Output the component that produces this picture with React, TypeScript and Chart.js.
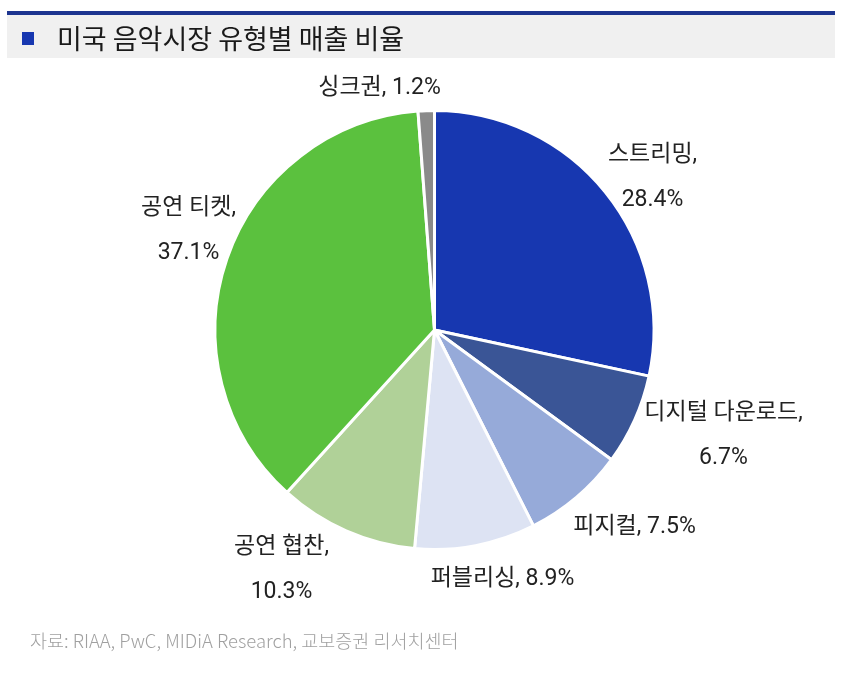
import React, { useEffect, useRef } from "react";
import { Chart, registerables } from "chart.js";

Chart.register(...registerables);

const title = "미국 음악시장 유형별 매출 비율";
const source = "자료: RIAA, PwC, MIDiA Research, 교보증권 리서치센터";
const categories = ["스트리밍", "디지털 다운로드", "피지컬", "퍼블리싱", "공연 협찬", "공연 티켓", "싱크권"];
const shares = [28.4, 6.7, 7.5, 8.9, 10.3, 37.1, 1.2];
const sliceColors = ["#1737b0", "#3a5596", "#96aad9", "#dde3f3", "#b0d198", "#5bc13e", "#8a8a8a"];
// label layout: split into two lines or not, offset of label centre from pie centre
const labelTwoLines = [true, true, false, false, true, true, false];
const labelOffsets: [number, number][] = [
  [218, -153],
  [289, 105],
  [200, 197],
  [68, 249],
  [-153, 239],
  [-246, -100],
  [-55, -242],
];

const W = 850;
const H = 684;

const decorPlugin = {
  id: "decor",
  beforeDraw(chart: any) {
    const ctx = chart.ctx;
    ctx.save();
    ctx.fillStyle = "#ffffff";
    ctx.fillRect(0, 0, W, H);
    // title band
    ctx.fillStyle = "#f0f0f0";
    ctx.fillRect(7, 15, 828, 43);
    ctx.fillStyle = "#1d3590";
    ctx.fillRect(7, 11, 828, 4);
    ctx.fillStyle = "#1737b0";
    ctx.fillRect(22, 32, 12, 13);
    ctx.fillStyle = "#1a1a1a";
    ctx.font = "400 27px 'Noto Sans CJK KR'";
    ctx.textBaseline = "middle";
    ctx.textAlign = "left";
    const tw = ctx.measureText(title).width;
    ctx.translate(57, 39);
    ctx.scale(Math.min(1, 356 / tw), 1);
    ctx.fillText(title, 0, 0);
    ctx.restore();
  },
  afterDraw(chart: any) {
    const ctx = chart.ctx;
    const meta = chart.getDatasetMeta(0);
    const arc0 = meta.data[0];
    const cx = arc0.x;
    const cy = arc0.y;
    ctx.save();
    ctx.fillStyle = "#222222";
    ctx.font = "23px Roboto, 'Noto Sans CJK KR'";
    ctx.textAlign = "center";
    ctx.textBaseline = "middle";
    categories.forEach((c, i) => {
      const [ox, oy] = labelOffsets[i];
      const x = cx + ox;
      const y = cy + oy;
      const pct = shares[i].toFixed(1) + "%";
      if (labelTwoLines[i]) {
        ctx.fillText(c + ",", x, y - 22);
        ctx.fillText(pct, x, y + 23);
      } else {
        ctx.fillText(c + ", " + pct, x, y);
      }
    });
    ctx.fillStyle = "#a0a0a0";
    ctx.font = "300 18.5px 'Noto Sans CJK KR'";
    ctx.textAlign = "left";
    ctx.fillText(source, 30, 641);
    ctx.restore();
  },
};

export default function App() {
  const ref = useRef<HTMLCanvasElement>(null);
  useEffect(() => {
    if (!ref.current) return;
    const chart = new Chart(ref.current, {
      type: "pie",
      data: {
        labels: categories,
        datasets: [
          {
            data: shares,
            backgroundColor: sliceColors,
            borderColor: "#ffffff",
            borderWidth: 3,
          },
        ],
      },
      options: {
        responsive: false,
        animation: false,
        devicePixelRatio: 1,
        layout: { padding: { left: 213, right: 194, top: 109, bottom: 133 } },
        plugins: {
          legend: { display: false },
          tooltip: { enabled: false },
          title: { display: false },
        },
      },
      plugins: [decorPlugin],
    });
    return () => chart.destroy();
  }, []);
  return (
    <div style={{ position: "absolute", left: 0, top: 0, width: W, height: H }}>
      <canvas ref={ref} width={W} height={H} style={{ width: W, height: H, display: "block" }} />
    </div>
  );
}
